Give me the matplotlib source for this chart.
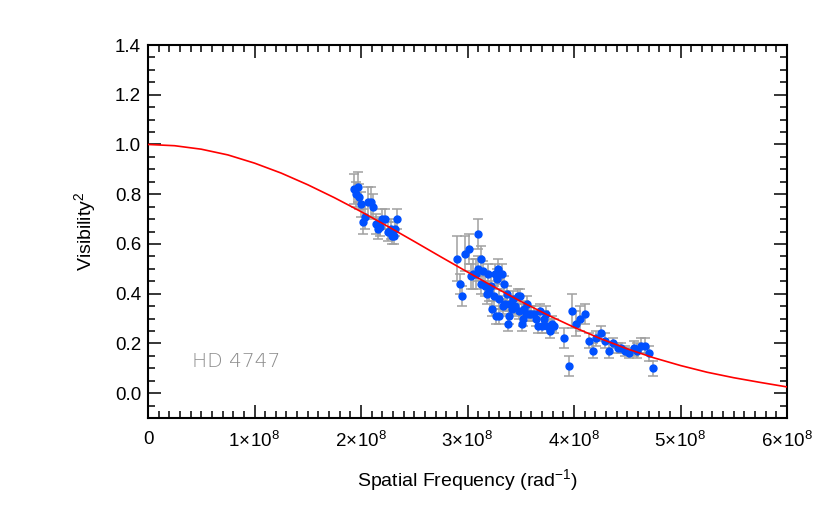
import numpy as np
import matplotlib
matplotlib.use('Agg')
import matplotlib.pyplot as plt
from matplotlib.ticker import FixedLocator, MultipleLocator

plt.rcParams['font.family'] = ['Liberation Sans', 'DejaVu Sans']
plt.rcParams['mathtext.fontset'] = 'custom'
plt.rcParams['mathtext.rm'] = 'Liberation Sans'
plt.rcParams['mathtext.it'] = 'Liberation Sans:italic'

# data (spatial frequency in units of 1e8 rad^-1)
freq = [1.93, 1.97, 1.95, 1.98, 2.00, 2.04, 2.02, 2.07, 2.09, 2.11, 2.14, 2.16, 2.18, 2.20,
        2.23, 2.25, 2.28, 2.29, 2.31, 2.32, 2.34,
        2.90, 2.93, 2.95, 2.98, 3.01, 3.03, 3.05, 3.08, 3.10, 3.10, 3.13, 3.13, 3.15, 3.16,
        3.18, 3.19, 3.20, 3.22, 3.23, 3.25, 3.26, 3.27, 3.28, 3.29, 3.30, 3.30, 3.32, 3.33,
        3.34, 3.35, 3.37, 3.38, 3.39, 3.40, 3.42, 3.43, 3.45, 3.47, 3.48, 3.49, 3.51, 3.52,
        3.53, 3.55, 3.56, 3.58, 3.60, 3.62, 3.64, 3.66, 3.68, 3.70, 3.72, 3.74, 3.75, 3.77,
        3.79, 3.81,
        3.91, 3.95, 3.98, 4.02, 4.06, 4.10, 4.14, 4.18, 4.21, 4.25, 4.29, 4.33, 4.37, 4.41,
        4.44, 4.48, 4.52, 4.56, 4.59, 4.63, 4.67, 4.70, 4.74]
vis2 = [0.82, 0.83, 0.80, 0.79, 0.76, 0.71, 0.69, 0.77, 0.77, 0.75, 0.68, 0.66, 0.67, 0.70,
        0.70, 0.65, 0.66, 0.63, 0.63, 0.66, 0.70,
        0.54, 0.44, 0.39, 0.56, 0.58, 0.47, 0.48, 0.48, 0.64, 0.50, 0.54, 0.44, 0.49, 0.43,
        0.40, 0.48, 0.41, 0.43, 0.34, 0.39, 0.48, 0.31, 0.46, 0.50, 0.31, 0.38, 0.48, 0.35,
        0.44, 0.36, 0.40, 0.28, 0.31, 0.36, 0.34, 0.38, 0.35, 0.39, 0.33, 0.39, 0.28, 0.30,
        0.34, 0.32, 0.36, 0.32, 0.32, 0.32, 0.30, 0.27, 0.33, 0.27, 0.30, 0.32, 0.27, 0.25,
        0.28, 0.27,
        0.22, 0.11, 0.33, 0.28, 0.30, 0.32, 0.21, 0.17, 0.22, 0.24, 0.21, 0.17, 0.20, 0.18,
        0.18, 0.17, 0.16, 0.18, 0.17, 0.19, 0.19, 0.16, 0.10]
err = [0.06, 0.06, 0.05, 0.05, 0.05, 0.05, 0.05, 0.06, 0.06, 0.05, 0.04, 0.04, 0.04, 0.04,
       0.04, 0.04, 0.04, 0.03, 0.03, 0.03, 0.04,
       0.09, 0.04, 0.04, 0.07, 0.06, 0.05, 0.06, 0.06, 0.06, 0.05, 0.05, 0.04, 0.04, 0.04,
       0.04, 0.04, 0.04, 0.04, 0.03, 0.04, 0.04, 0.03, 0.04, 0.04, 0.03, 0.04, 0.04, 0.03,
       0.03, 0.03, 0.03, 0.03, 0.03, 0.03, 0.03, 0.03, 0.03, 0.03, 0.03, 0.03, 0.03, 0.03,
       0.03, 0.03, 0.03, 0.03, 0.03, 0.03, 0.03, 0.03, 0.03, 0.03, 0.03, 0.03, 0.03, 0.03,
       0.03, 0.03,
       0.04, 0.04, 0.07, 0.05, 0.05, 0.04, 0.03, 0.03, 0.03, 0.03, 0.03, 0.03, 0.02, 0.02,
       0.02, 0.02, 0.02, 0.03, 0.03, 0.03, 0.03, 0.03, 0.03]

# model curve
model_freq = [0, 0.25, 0.5, 0.75, 1.0, 1.25, 1.5, 1.75, 2.0, 2.25, 2.5, 2.75, 3.0, 3.25,
              3.5, 3.75, 4.0, 4.25, 4.5, 4.75, 5.0, 5.25, 5.5, 5.75, 6.0]
model_vis2 = [1.000, 0.995, 0.981, 0.958, 0.925, 0.885, 0.838, 0.786, 0.730, 0.671, 0.610,
              0.548, 0.487, 0.427, 0.369, 0.315, 0.265, 0.219, 0.178, 0.142, 0.111, 0.084,
              0.062, 0.043, 0.025]

xticks = [0, 1e8, 2e8, 3e8, 4e8, 5e8, 6e8]
xticklabels = ['0'] + [r'$%d\!\times\!10^{8}$' % i for i in range(1, 7)]

fig = plt.figure(figsize=(8.3, 5.13), dpi=100)
ax = fig.add_axes([148/830, 95/513, 639/830, 373/513])

x = np.array(freq) * 1e8
ax.errorbar(x, vis2, yerr=err, fmt='o', color='#0050ff', ms=5, mec='#0050ff',
            ecolor='#a0a0a0', elinewidth=1.1, capsize=3.5, capthick=1.1, zorder=2)
ax.plot(np.array(model_freq) * 1e8, model_vis2, color='#ff0000', lw=1.2, zorder=3)

ax.text(0.41e8, 0.128, 'HD 4747', color='#8c8c8c', fontsize=14.5,
        family='DejaVu Sans', fontweight='ultralight', va='center', ha='left')

ax.set_xlim(0, 6e8)
ax.set_ylim(-0.1, 1.4)
ax.xaxis.set_major_locator(FixedLocator(xticks))
ax.set_xticklabels(xticklabels)
ax.xaxis.set_minor_locator(MultipleLocator(1e7))
ax.yaxis.set_minor_locator(MultipleLocator(0.05))
ax.set_yticks(np.arange(0, 1.41, 0.2))
ax.set_yticklabels(['%.1f' % v for v in np.arange(0, 1.41, 0.2)])

ax.tick_params(which='both', direction='in', top=True, right=True, width=1.1,
               labelsize=13.5, color='black')
ax.tick_params(which='major', length=9.5)
ax.tick_params(which='minor', length=5)
ax.tick_params(axis='x', which='major', pad=9)
ax.tick_params(axis='y', which='major', pad=5)
for s in ax.spines.values():
    s.set_linewidth(1.5)

ax.set_xlabel('Spatial Frequency (rad$^{-1}$)', fontsize=14, labelpad=12)
ax.set_ylabel('Visibility$^2$', fontsize=14, labelpad=12)

fig.savefig('out.png', dpi=100)
